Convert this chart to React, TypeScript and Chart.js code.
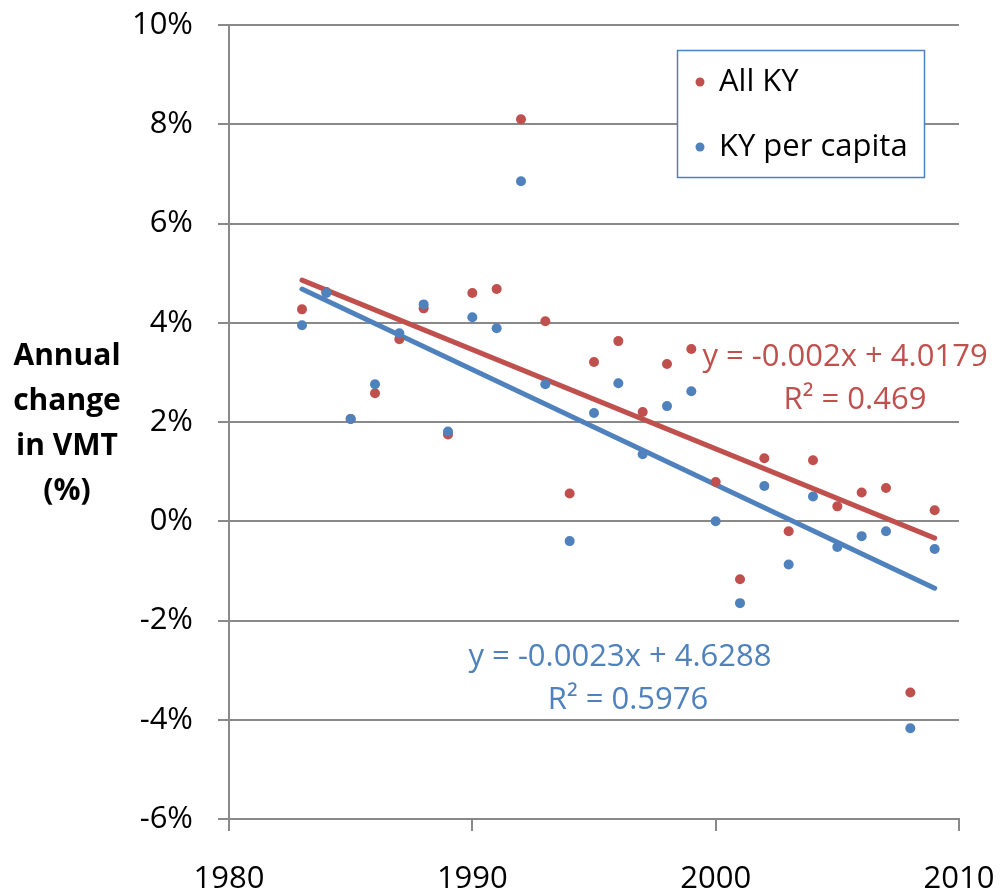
import { useEffect, useRef } from "react";
import { Chart, registerables } from "chart.js";

Chart.register(...registerables);

const years = [1983, 1984, 1985, 1986, 1987, 1988, 1989, 1990, 1991, 1992, 1993, 1994, 1995, 1996, 1997, 1998, 1999, 2000, 2001, 2002, 2003, 2004, 2005, 2006, 2007, 2008, 2009];
const allKY = [4.27, 4.62, 2.06, 2.58, 3.67, 4.29, 1.75, 4.6, 4.68, 8.1, 4.03, 0.56, 3.21, 3.63, 2.2, 3.17, 3.47, 0.79, -1.17, 1.27, -0.2, 1.23, 0.3, 0.58, 0.67, -3.45, 0.22];
const perCapita = [3.95, 4.6, 2.06, 2.76, 3.79, 4.37, 1.81, 4.11, 3.89, 6.85, 2.76, -0.4, 2.18, 2.78, 1.35, 2.32, 2.62, 0.0, -1.65, 0.71, -0.87, 0.5, -0.52, -0.3, -0.2, -4.17, -0.56];

const trendYears = [1983, 2009];
const allKYTrend = [4.86, -0.34];
const perCapitaTrend = [4.68, -1.35];

const seriesLabels = ["All KY", "KY per capita"];
const allKYEquation = ["y = -0.002x + 4.0179", "R² = 0.469"];
const perCapitaEquation = ["y = -0.0023x + 4.6288", "R² = 0.5976"];
const yTitleLines = ["Annual", "change", "in VMT", "(%)"];

const RED = "#C0504D";
const BLUE = "#4F81BD";
const GRID = "#898989";
const FONT = "'Open Sans', 'Noto Sans', sans-serif";

const overlayPlugin = {
  id: "overlay",
  afterDraw(chart: any) {
    const ctx = chart.ctx as CanvasRenderingContext2D;
    ctx.save();
    // y-axis title (horizontal, multi-line)
    ctx.fillStyle = "#000";
    ctx.font = `bold 30px ${FONT}`;
    ctx.textAlign = "center";
    ctx.textBaseline = "middle";
    yTitleLines.forEach((t, i) => ctx.fillText(t, 67, 356 + i * 45));

    // legend box
    ctx.fillStyle = "#fff";
    ctx.fillRect(677, 50, 248, 128);
    ctx.strokeStyle = BLUE;
    ctx.lineWidth = 1.5;
    ctx.strokeRect(677.5, 50.5, 247, 127);
    const legendColors = [RED, BLUE];
    seriesLabels.forEach((lab, i) => {
      const cy = 82 + i * 65;
      ctx.fillStyle = legendColors[i];
      ctx.beginPath();
      ctx.arc(700, cy, 4.5, 0, Math.PI * 2);
      ctx.fill();
      ctx.fillStyle = "#000";
      ctx.font = `31px ${FONT}`;
      ctx.textAlign = "left";
      ctx.textBaseline = "middle";
      ctx.fillText(lab, 719, cy);
    });

    // trendline equations
    ctx.font = `31px ${FONT}`;
    ctx.textAlign = "center";
    ctx.textBaseline = "middle";
    ctx.fillStyle = RED;
    ctx.fillText(allKYEquation[0], 845, 357);
    ctx.fillText(allKYEquation[1], 855, 400);
    ctx.fillStyle = BLUE;
    ctx.fillText(perCapitaEquation[0], 620, 657);
    ctx.fillText(perCapitaEquation[1], 628, 700);
    ctx.restore();
  },
};

export default function App() {
  const ref = useRef<HTMLCanvasElement | null>(null);

  useEffect(() => {
    document.body.style.margin = "0";
    const canvas = ref.current;
    if (!canvas) return;
    const chart = new Chart(canvas, {
      type: "scatter",
      data: {
        datasets: [
          {
            label: seriesLabels[1],
            data: years.map((x, i) => ({ x, y: perCapita[i] })),
            backgroundColor: BLUE,
            borderColor: BLUE,
            pointRadius: 5,
            borderWidth: 0,
            order: 1,
          },
          {
            label: seriesLabels[0],
            data: years.map((x, i) => ({ x, y: allKY[i] })),
            backgroundColor: RED,
            borderColor: RED,
            pointRadius: 5,
            borderWidth: 0,
            order: 2,
          },
          {
            label: "perCapitaTrend",
            data: trendYears.map((x, i) => ({ x, y: perCapitaTrend[i] })),
            showLine: true,
            borderColor: BLUE,
            borderWidth: 5,
            pointRadius: 0,
            borderCapStyle: "round",
            order: 3,
          },
          {
            label: "allKYTrend",
            data: trendYears.map((x, i) => ({ x, y: allKYTrend[i] })),
            showLine: true,
            borderColor: RED,
            borderWidth: 5,
            pointRadius: 0,
            borderCapStyle: "round",
            order: 4,
          },
        ],
      },
      options: {
        responsive: false,
        animation: false,
        devicePixelRatio: 1,
        layout: { padding: { left: 0, right: 45, top: 25, bottom: 0 } },
        plugins: {
          legend: { display: false },
          tooltip: { enabled: false },
        },
        scales: {
          x: {
            type: "linear",
            min: 1980,
            max: 2010,
            ticks: {
              stepSize: 10,
              padding: 30,
              color: "#000",
              font: { family: FONT, size: 31 },
              callback: (v: any) => String(v),
            },
            grid: {
              drawOnChartArea: false,
              drawTicks: true,
              tickLength: 12,
              color: GRID,
              lineWidth: 2,
            },
            border: { color: GRID, width: 2 },
            afterFit: (s: any) => {
              s.height = 74;
              s.paddingLeft = 0;
              s.paddingRight = 0;
            },
          },
          y: {
            min: -6,
            max: 10,
            ticks: {
              stepSize: 2,
              padding: 25,
              color: "#000",
              font: { family: FONT, size: 31 },
              callback: (v: any) => `${v}%`,
            },
            grid: {
              drawOnChartArea: true,
              drawTicks: true,
              tickLength: 11,
              color: GRID,
              lineWidth: 2,
            },
            border: { color: GRID, width: 2 },
            afterFit: (s: any) => {
              s.width = 229;
              s.paddingTop = 0;
              s.paddingBottom = 0;
            },
          },
        },
      },
      plugins: [overlayPlugin],
    } as any);
    return () => chart.destroy();
  }, []);

  return <canvas ref={ref} width={1004} height={893} style={{ display: "block", width: 1004, height: 893 }} />;
}
